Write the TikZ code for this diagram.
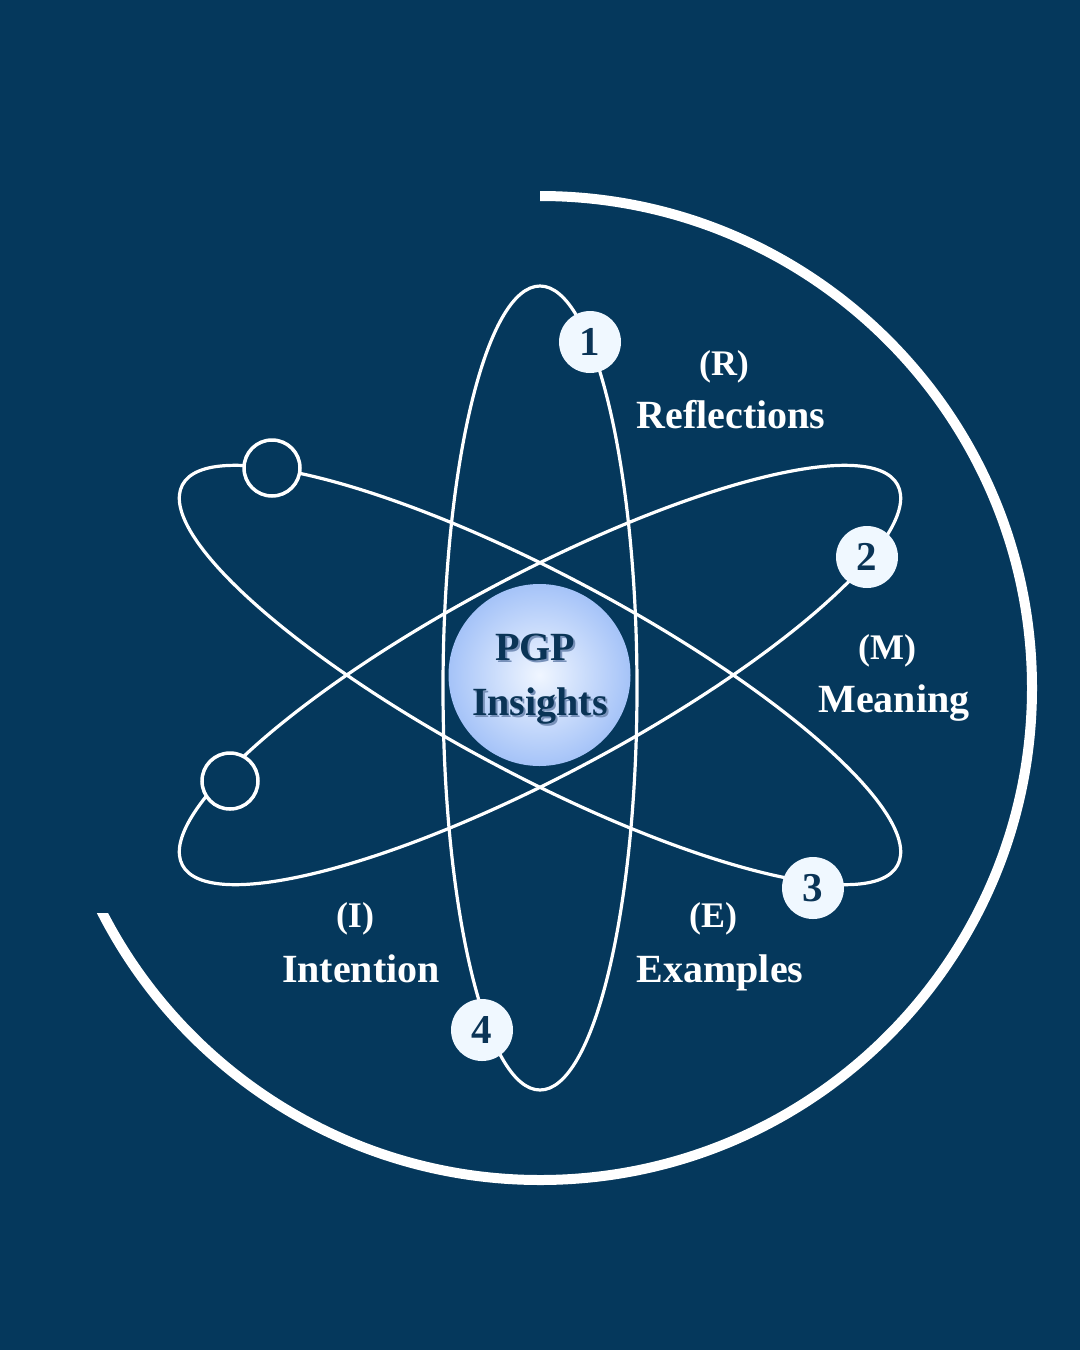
\documentclass[tikz,border=0pt]{standalone}
\usepackage{fontspec}
\setmainfont{Liberation Serif}
\definecolor{bg}{RGB}{5,56,92}
\definecolor{navy}{RGB}{10,52,86}
\definecolor{pale}{RGB}{240,248,255}
\definecolor{ctrin}{RGB}{240,246,255}
\definecolor{ctrout}{RGB}{165,195,248}
\definecolor{shadowc}{RGB}{120,145,185}
\begin{document}
\begin{tikzpicture}[x=1pt,y=-1pt,
  orbit/.style={draw=white, line width=3.2pt},
  numnode/.style={circle, fill=pale, minimum size=62pt, inner sep=0pt, text=navy,
    font=\fontsize{41}{41}\selectfont\bfseries},
  opennode/.style={circle, draw=white, line width=3.5pt, fill=bg, minimum size=56pt, inner sep=0pt},
  word/.style={anchor=base, text=white, inner sep=0pt, font=\fontsize{40}{48}\selectfont\bfseries},
  paren/.style={anchor=base, text=white, inner sep=0pt, font=\fontsize{36}{40}\selectfont\bfseries},
  ctrtext/.style={anchor=base, inner sep=0pt, font=\fontsize{40}{48}\selectfont\bfseries},
  ring/.style={draw=white, line width=10pt}]
\useasboundingbox (0,0) rectangle (1080,1350);
\fill[bg] (0,0) rectangle (1080,1350);

% outer ring
\begin{scope}
  \clip (540,-10) -- (1090,-10) -- (1090,1360) -- (-10,1360) -- (-10,913) -- (540,913) -- cycle;
  \draw[ring] (540,688) ++(90:492pt) arc[start angle=90, end angle=-162, radius=492pt];
\end{scope}

% orbits
\draw[orbit] (540,688) ellipse [x radius=97pt, y radius=402pt];
\draw[orbit, rotate around={28:(540,675)}] (540,675) ellipse [x radius=405pt, y radius=100pt];
\draw[orbit, rotate around={-28:(540,675)}] (540,675) ellipse [x radius=405pt, y radius=100pt];

% centre
\node[circle, minimum size=182pt, inner sep=0pt, inner color=ctrin, outer color=ctrout] (core) at (539.5,675) {};
\node[ctrtext, text=shadowc] (pgpS) at (537,662) {PGP};
\node[ctrtext, text=navy] (pgp) at (535,660) {PGP};
\node[ctrtext, text=shadowc] (insS) at (542,717) {Insights};
\node[ctrtext, text=navy] (ins) at (540,715) {Insights};

% nodes on orbits
\node[numnode] (n1) at (590,342) {1};
\node[numnode] (n2) at (867,557) {2};
\node[numnode] (n3) at (813,888) {3};
\node[numnode] (n4) at (482,1030) {4};
\node[opennode] (o1) at (272,468) {};
\node[opennode] (o2) at (230,781) {};

% labels
\node[paren] (lR) at (724,375) {(R)};
\node[word]  (wR) at (731,428) {Reflections};
\node[paren] (lM) at (887,659) {(M)};
\node[word]  (wM) at (894,712) {Meaning};
\node[paren] (lI) at (355,927) {(I)};
\node[word]  (wI) at (361,982) {Intention};
\node[paren] (lE) at (713,927) {(E)};
\node[word]  (wE) at (720,982) {Examples};
\end{tikzpicture}
\end{document}
